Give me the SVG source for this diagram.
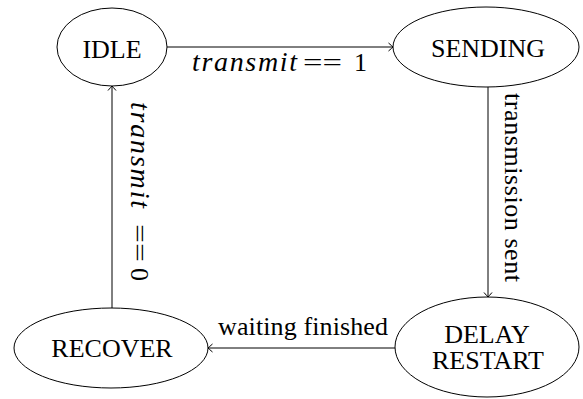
<svg xmlns="http://www.w3.org/2000/svg" width="583" height="399" viewBox="0 0 583 399">
<style>
.node{fill:#fff;stroke:#000;stroke-width:1}
.lbl{font-family:"Liberation Serif","Times New Roman",serif;font-size:26px;fill:#000}
.it{font-family:"Liberation Serif","DejaVu Serif",serif;font-style:italic;font-size:28px}
.edge{fill:none;stroke:#000;stroke-width:1}
</style>
<defs>
<marker id="arr" markerUnits="userSpaceOnUse" markerWidth="12" markerHeight="12" viewBox="-6 -6 12 12" refX="0" refY="0" orient="auto">
<path d="M -4.5 -4 Q -1 -1 0 0 Q -1 1 -4.5 4" fill="none" stroke="#000" stroke-width="1"/>
</marker>
</defs>
<g id="connectors">
<line class="edge" x1="167" y1="47" x2="393" y2="47" marker-end="url(#arr)"/>
<line class="edge" x1="488" y1="87" x2="488" y2="297" marker-end="url(#arr)"/>
<line class="edge" x1="395" y1="348" x2="208" y2="348" marker-end="url(#arr)"/>
<line class="edge" x1="112" y1="308" x2="112" y2="86" marker-end="url(#arr)"/>
<text class="lbl"><tspan class="it" x="192" y="71" textLength="105" lengthAdjust="spacing">transmit</tspan><tspan x="303" y="71" textLength="39" lengthAdjust="spacingAndGlyphs">==</tspan><tspan x="354" y="71">1</tspan></text>
<text class="lbl" transform="translate(505,93) rotate(90)" x="0" y="0" textLength="189" lengthAdjust="spacing">transmission sent</text>
<text class="lbl" x="218" y="335" textLength="170" lengthAdjust="spacing">waiting finished</text>
<text class="lbl" transform="translate(131,102) rotate(90)"><tspan class="it" x="0" y="0" textLength="106" lengthAdjust="spacing">transmit</tspan><tspan x="122" y="0" textLength="38" lengthAdjust="spacingAndGlyphs">==</tspan><tspan x="166" y="0">0</tspan></text>
</g>
<g id="IDLE">
<ellipse class="node" cx="112" cy="47" rx="55" ry="39"/>
<text class="lbl" x="112" y="58" text-anchor="middle">IDLE</text>
</g>
<g id="SENDING">
<ellipse class="node" cx="486" cy="47" rx="93" ry="40"/>
<text class="lbl" x="488" y="57" text-anchor="middle">SENDING</text>
</g>
<g id="DELAY_RESTART">
<ellipse class="node" cx="487" cy="347" rx="92" ry="50"/>
<text class="lbl" text-anchor="middle"><tspan x="487" y="343">DELAY</tspan><tspan x="488" y="369">RESTART</tspan></text>
</g>
<g id="RECOVER">
<ellipse class="node" cx="111" cy="348" rx="97" ry="40"/>
<text class="lbl" x="112" y="357" text-anchor="middle">RECOVER</text>
</g>
</svg>
